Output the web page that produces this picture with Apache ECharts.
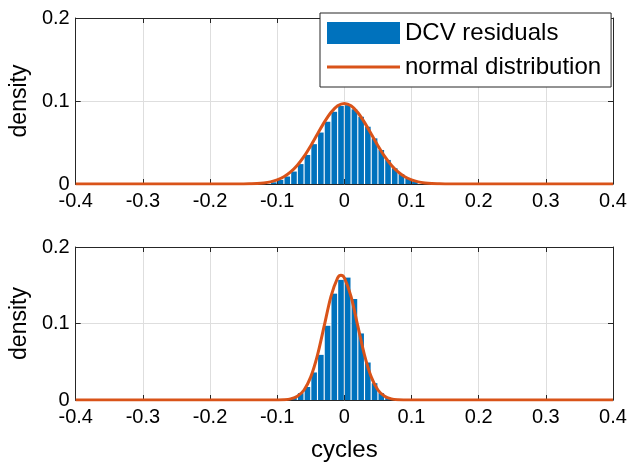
<!DOCTYPE html>
<html>
<head>
<meta charset="utf-8">
<script src="https://cdn.jsdelivr.net/npm/echarts@6/dist/echarts.min.js"></script>
<style>html,body{margin:0;padding:0;background:#fff;}#c{width:630px;height:463px;}</style>
</head>
<body>
<div id="c"></div>
<script>
// ---- data ----
const xTicks = [-0.4, -0.3, -0.2, -0.1, 0, 0.1, 0.2, 0.3, 0.4];
const yTicks = [0, 0.1, 0.2];

// top panel histogram (bin centres, bin width 0.01)
const binCentersTop = [-0.105,-0.095,-0.085,-0.075,-0.065,-0.055,-0.045,-0.035,-0.025,-0.015,-0.005,
                        0.005,0.015,0.025,0.035,0.045,0.055,0.065,0.075,0.085,0.095,0.105];
const densityTop    = [0.002,0.005,0.009,0.015,0.024,0.035,0.048,0.062,0.075,0.087,0.094,
                       0.095,0.090,0.081,0.069,0.055,0.041,0.029,0.019,0.012,0.007,0.003];
// top panel normal curve
const curveXTop = [-0.4,-0.15,-0.14,-0.13,-0.12,-0.11,-0.10,-0.09,-0.08,-0.07,-0.06,-0.05,-0.04,-0.03,-0.02,-0.01,0,
                   0.01,0.02,0.03,0.04,0.05,0.06,0.07,0.08,0.09,0.10,0.11,0.12,0.13,0.14,0.15,0.4];
const curveYTop = [0,0.0001,0.0003,0.0006,0.0013,0.0026,0.0050,0.0087,0.0145,0.0226,0.0332,0.0461,0.0603,0.0742,0.0861,0.0942,0.0970,
                   0.0942,0.0861,0.0742,0.0603,0.0461,0.0332,0.0226,0.0145,0.0087,0.0050,0.0026,0.0013,0.0006,0.0003,0.0001,0];

// bottom panel histogram
const binCentersBot = [-0.075,-0.065,-0.055,-0.045,-0.035,-0.025,-0.015,-0.005,0.005,0.015,0.025,0.035,0.045,0.055,0.065];
const densityBot    = [0.003,0.009,0.017,0.036,0.059,0.097,0.139,0.157,0.160,0.132,0.087,0.049,0.022,0.009,0.003];
// bottom panel normal curve
const curveXBot = [-0.4,-0.11,-0.10,-0.09,-0.08,-0.07,-0.06,-0.05,-0.04,-0.03,-0.02,-0.01,-0.005,0,
                   0.01,0.02,0.03,0.04,0.05,0.06,0.07,0.08,0.09,0.10,0.4];
const curveYBot = [0,0,0.0001,0.0004,0.0015,0.0048,0.0131,0.0302,0.0587,0.0968,0.1351,0.1596,0.163,0.1596,
                   0.1351,0.0968,0.0587,0.0302,0.0131,0.0048,0.0015,0.0004,0.0001,0,0];

const barName = 'DCV residuals';
const lineName = 'normal distribution';
const xName = 'cycles';
const yName = 'density';

// ---- styling ----
const FONT = 'Liberation Sans, Arial, sans-serif';
const AX = '#262626';
const GRIDC = '#dedede';
const BLUE = '#0072BD';
const ORANGE = '#D95319';

const zip = (a, b) => a.map((v, i) => [v, b[i]]);
const fmt = v => (Math.abs(v) < 1e-9 ? '0' : (+v.toFixed(1)).toString());

function xAxes(gi, showName) {
  return [{
    type: 'value', gridIndex: gi, min: xTicks[0], max: xTicks[xTicks.length-1], interval: 0.1,
    axisLine: {show: true, onZero: false, lineStyle: {color: AX, width: 1}},
    axisTick: {show: true, inside: true, length: 5, lineStyle: {color: AX}},
    axisLabel: {color: '#000', fontFamily: FONT, fontSize: 20, margin: 7, formatter: fmt},
    splitLine: {show: true, lineStyle: {color: GRIDC, width: 1}},
    name: showName ? xName : '', nameLocation: 'middle', nameGap: 38,
    nameTextStyle: {color: '#000', fontFamily: FONT, fontSize: 24}
  }, {
    type: 'value', gridIndex: gi, position: 'top', min: xTicks[0], max: xTicks[xTicks.length-1], interval: 0.1,
    axisLine: {show: true, onZero: false, lineStyle: {color: AX, width: 1}},
    axisTick: {show: true, inside: true, length: 5, lineStyle: {color: AX}},
    axisLabel: {show: false}, splitLine: {show: false}
  }];
}
function yAxes(gi) {
  return [{
    type: 'value', gridIndex: gi, min: yTicks[0], max: yTicks[yTicks.length-1], interval: 0.1,
    axisLine: {show: true, onZero: false, lineStyle: {color: AX, width: 1}},
    axisTick: {show: true, inside: true, length: 5, lineStyle: {color: AX}},
    axisLabel: {color: '#000', fontFamily: FONT, fontSize: 20, margin: 6, formatter: fmt},
    splitLine: {show: true, lineStyle: {color: GRIDC, width: 1}},
    name: yName, nameLocation: 'middle', nameGap: 40, nameRotate: 90,
    nameTextStyle: {color: '#000', fontFamily: FONT, fontSize: 23}
  }, {
    type: 'value', gridIndex: gi, position: 'right', min: yTicks[0], max: yTicks[yTicks.length-1], interval: 0.1,
    axisLine: {show: true, onZero: false, lineStyle: {color: AX, width: 1}},
    axisTick: {show: true, inside: true, length: 5, lineStyle: {color: AX}},
    axisLabel: {show: false}, splitLine: {show: false}
  }];
}

const chart = echarts.init(document.getElementById('c'), null, {renderer: 'canvas'});
chart.setOption({
  animation: false,
  backgroundColor: '#fff',
  grid: [
    {left: 74, right: 17, top: 18, height: 166},
    {left: 74, right: 17, top: 247, height: 154}
  ],
  xAxis: [...xAxes(0, false), ...xAxes(1, true)],
  yAxis: [...yAxes(0), ...yAxes(1)],
  legend: {
    orient: 'vertical', left: 320, top: 13,
    padding: [8, 10, 8, 7], itemGap: 10, itemWidth: 73, itemHeight: 22,
    symbolKeepAspect: true,
    backgroundColor: '#fff', borderColor: AX, borderWidth: 1, borderRadius: 0,
    textStyle: {color: '#000', fontFamily: FONT, fontSize: 24},
    data: [
      {name: barName, icon: 'rect'},
      {name: lineName, icon: 'path://M0,0L73,0L73,3L0,3Z', itemStyle: {color: ORANGE, borderWidth: 0}}
    ]
  },
  series: [
    {name: barName, type: 'bar', xAxisIndex: 0, yAxisIndex: 0, data: zip(binCentersTop, densityTop),
     barWidth: 5.6, itemStyle: {color: BLUE}},
    {name: lineName, type: 'line', xAxisIndex: 0, yAxisIndex: 0, data: zip(curveXTop, curveYTop),
     symbol: 'none', smooth: 0.3, lineStyle: {color: ORANGE, width: 3}, itemStyle: {color: ORANGE}, z: 5},
    {name: barName, type: 'bar', xAxisIndex: 2, yAxisIndex: 2, data: zip(binCentersBot, densityBot),
     barWidth: 5.6, itemStyle: {color: BLUE}},
    {name: lineName, type: 'line', xAxisIndex: 2, yAxisIndex: 2, data: zip(curveXBot, curveYBot),
     symbol: 'none', smooth: 0.3, lineStyle: {color: ORANGE, width: 3}, itemStyle: {color: ORANGE}, z: 5}
  ]
});
</script>
</body>
</html>
